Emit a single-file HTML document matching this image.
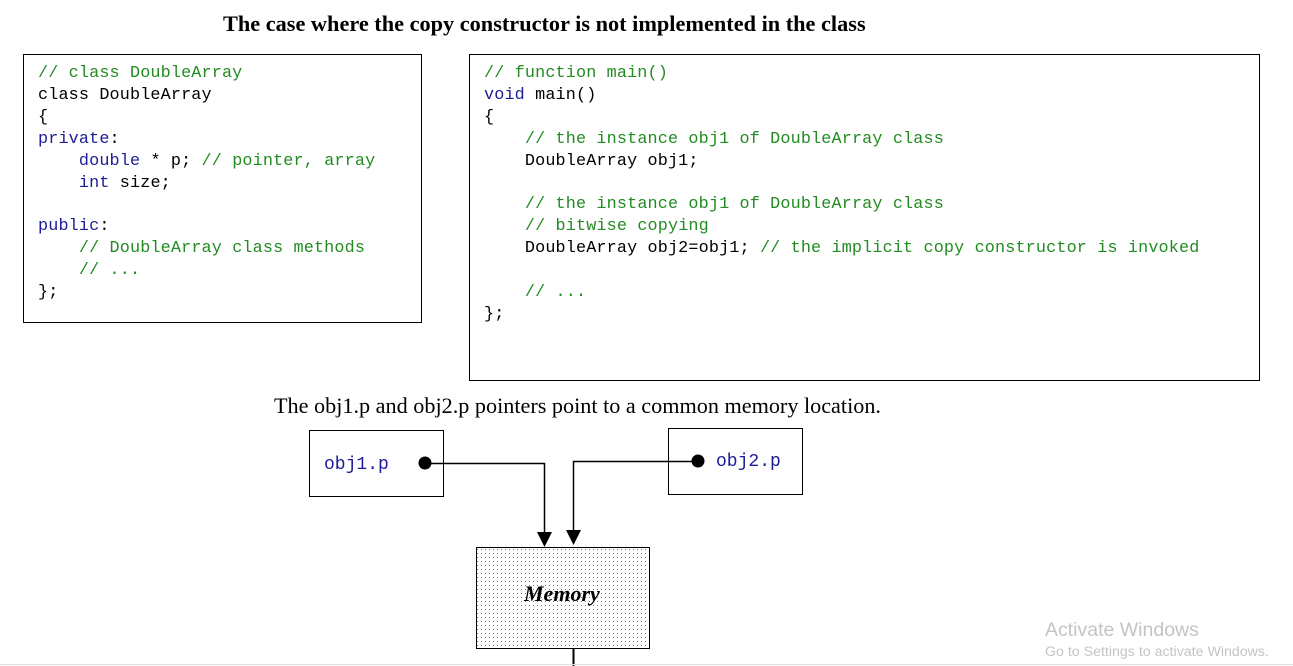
<!DOCTYPE html>
<html><head><meta charset="utf-8"><style>
body{margin:0;width:1293px;height:666px;background:#fff;position:relative;overflow:hidden;font-family:"Liberation Serif",serif}
.box{position:absolute;border:1px solid #000;box-sizing:border-box}
pre{position:absolute;margin:0;font-family:"Liberation Mono",monospace;font-size:16.8px;letter-spacing:0.15px;line-height:21.9px;color:#000}
.c{color:#228b22}.k{color:#1c1c96}
.t{position:absolute;white-space:nowrap}
</style></head><body>
<div class="t" style="left:223px;top:11px;font-size:22.3px;font-weight:bold">The case where the copy constructor is not implemented in the class</div>
<div class="box" style="left:23px;top:54px;width:399px;height:269px"></div>
<pre style="left:38px;top:63px"><span class="c">// class DoubleArray</span>
class DoubleArray
{
<span class="k">private</span>:
    <span class="k">double</span> * p; <span class="c">// pointer, array</span>
    <span class="k">int</span> size;

<span class="k">public</span>:
    <span class="c">// DoubleArray class methods</span>
    <span class="c">// ...</span>
};</pre>
<div class="box" style="left:469px;top:54px;width:791px;height:327px"></div>
<pre style="left:484px;top:63px"><span class="c">// function main()</span>
<span class="k">void</span> main()
{
    <span class="c">// the instance obj1 of DoubleArray class</span>
    DoubleArray obj1;

    <span class="c">// the instance obj1 of DoubleArray class</span>
    <span class="c">// bitwise copying</span>
    DoubleArray obj2=obj1; <span class="c">// the implicit copy constructor is invoked</span>

    <span class="c">// ...</span>
};</pre>
<div class="t" style="left:274px;top:393px;font-size:22.2px">The obj1.p and obj2.p pointers point to a common memory location.</div>
<svg width="1293" height="666" style="position:absolute;left:0;top:0">
<defs><pattern id="d" width="4" height="4" patternUnits="userSpaceOnUse"><rect x="1" y="1" width="1" height="1" fill="#777"/></pattern></defs>
<rect x="309.5" y="430.5" width="134" height="66" fill="none" stroke="#000"/>
<rect x="668.5" y="428.5" width="134" height="66" fill="none" stroke="#000"/>
<rect x="476.5" y="547.5" width="173" height="101" fill="url(#d)" stroke="#000"/>
<circle cx="425" cy="463" r="6.5" fill="#000"/>
<circle cx="698" cy="461" r="6.5" fill="#000"/>
<polyline points="425,463.5 544.5,463.5 544.5,535" fill="none" stroke="#000" stroke-width="1.5"/>
<polyline points="698,461.5 573.5,461.5 573.5,535" fill="none" stroke="#000" stroke-width="1.5"/>
<polygon points="537,532 552,532 544.5,547" fill="#000"/>
<polygon points="566,530 581,530 573.5,545" fill="#000"/>
<line x1="573.5" y1="648" x2="573.5" y2="666" stroke="#000" stroke-width="2"/>
<line x1="0" y1="664.5" x2="1293" y2="664.5" stroke="#ddd"/>
</svg>
<div class="t" style="left:324px;top:455px;font-family:'Liberation Mono',monospace;font-size:18px;color:#1c1c96">obj1.p</div>
<div class="t" style="left:716px;top:452px;font-family:'Liberation Mono',monospace;font-size:18px;color:#1c1c96">obj2.p</div>
<div class="t" style="left:524px;top:581px;font-size:22px;font-weight:bold;font-style:italic">Memory</div>
<div class="t" style="left:1045px;top:619px;font-family:'Liberation Sans',sans-serif;font-size:19.5px;color:#c4c4c4">Activate Windows</div>
<div class="t" style="left:1045px;top:644px;font-family:'Liberation Sans',sans-serif;font-size:14.2px;color:#c4c4c4">Go to Settings to activate Windows.</div>
</body></html>
